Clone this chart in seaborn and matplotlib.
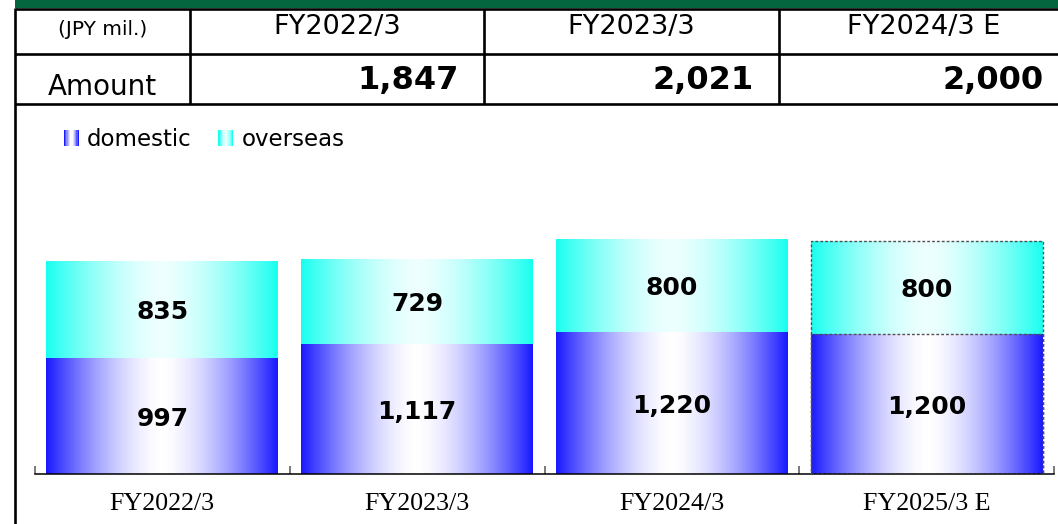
import matplotlib
matplotlib.use("Agg")
import matplotlib.pyplot as plt
import numpy as np
import seaborn as sns
from matplotlib.legend_handler import HandlerBase
from matplotlib.patches import Rectangle, Patch

# Data
years = ["FY2022/3", "FY2023/3", "FY2024/3", "FY2025/3 E"]
domestic = [997, 1117, 1220, 1200]
overseas = [835, 729, 800, 800]

table_years = ["FY2022/3", "FY2023/3", "FY2024/3 E"]
table_amount = [1847, 2021, 2000]
table_unit = "(JPY mil.)"
table_row = "Amount"

totals = [d + o for d, o in zip(domestic, overseas)]

# Style
sns.set_style("white")
plt.rcParams["font.family"] = ["DejaVu Sans"]
plt.rcParams["text.color"] = "black"
plt.rcParams["xtick.color"] = "black"
plt.rcParams["xtick.labelcolor"] = "black"

DOM_EDGE = np.array([0.10, 0.10, 1.00])
DOM_MID = np.array([1.00, 1.00, 1.00])
OVS_EDGE = np.array([0.10, 1.00, 0.94])
OVS_MID = np.array([0.93, 1.00, 1.00])


def gradient(edge, mid, n=200):
    u = np.linspace(0, 1, n)
    w = (np.abs(u - 0.5) * 2) ** 1.6
    return mid[None, :] + (edge - mid)[None, :] * w[:, None]


class GradientHandler(HandlerBase):
    def __init__(self, edge, mid):
        super().__init__()
        self.edge, self.mid = edge, mid

    def create_artists(self, legend, orig_handle, xdescent, ydescent,
                       width, height, fontsize, trans):
        cols = gradient(self.edge, self.mid, 12)
        arts = []
        step = width / len(cols)
        for i, c in enumerate(cols):
            arts.append(Rectangle((-xdescent + i * step, -ydescent), step * 1.05, height,
                                  facecolor=c, edgecolor="none", transform=trans))
        return arts


W, H = 1058, 524
fig = plt.figure(figsize=(W / 100, H / 100), dpi=100)

# ---- table on top (figure pixel space) ----
bg = fig.add_axes([0, 0, 1, 1], zorder=0)
bg.set_xlim(0, W)
bg.set_ylim(H, 0)
bg.axis("off")

col_edges = [15, 190, 484, 779, 1069]
bg.add_patch(Rectangle((15, 0), W - 15, 8, color="#03663f", lw=0))
lw = 1.9
for y in [8.5, 53.5, 104]:
    bg.plot([15, W], [y, y], color="black", lw=lw, solid_capstyle="butt")
for x in col_edges[1:4]:
    bg.plot([x, x], [8.5, 104], color="black", lw=lw, solid_capstyle="butt")
bg.plot([15, 15], [8, H], color="black", lw=lw, solid_capstyle="butt")

bg.text((col_edges[0] + col_edges[1]) / 2, 35, table_unit, ha="center", va="baseline", fontsize=14.5)
bg.text((col_edges[0] + col_edges[1]) / 2, 95, table_row, ha="center", va="baseline", fontsize=20)
for i, (lab, val) in enumerate(zip(table_years, table_amount)):
    cx = (col_edges[i + 1] + col_edges[i + 2]) / 2
    bg.text(cx, 33.5, lab, ha="center", va="baseline", fontsize=19.5)
    bg.text(col_edges[i + 2] - 25, 88.5, f"{val:,}", ha="right", va="baseline",
            fontsize=23, fontweight="bold")

# ---- chart ----
px_per_unit = 213 / 1832
ax_top, ax_bot, ax_l, ax_r = 130, 474, 35, 1054
ax = fig.add_axes([ax_l / W, (H - ax_bot) / H, (ax_r - ax_l) / W, (ax_bot - ax_top) / H], zorder=1)
ax.patch.set_alpha(0)

sns.barplot(x=years, y=totals, color=OVS_EDGE, width=0.91, saturation=1, ax=ax)
sns.barplot(x=years, y=domestic, color=DOM_EDGE, width=0.91, saturation=1, ax=ax)

ovs_grad = gradient(OVS_EDGE, OVS_MID)[None, :, :]
dom_grad = gradient(DOM_EDGE, DOM_MID)[None, :, :]
for cont, grad in [(ax.containers[0], ovs_grad), (ax.containers[1], dom_grad)]:
    for i, p in enumerate(cont.patches):
        x0, y0 = p.get_x(), p.get_y()
        im = ax.imshow(grad, extent=[x0, x0 + p.get_width(), y0, y0 + p.get_height()],
                       aspect="auto", interpolation="bilinear", zorder=2)
        im.set_clip_path(p)
        if years[i].endswith("E"):
            p.set_facecolor("none")
            p.set_edgecolor("#505050")
            p.set_linestyle((0, (2, 1.5)))
            p.set_linewidth(1.0)
            p.set_zorder(4)

for i in range(len(years)):
    ax.text(i, domestic[i] + overseas[i] / 2, f"{overseas[i]:,}", ha="center",
            va="center_baseline", fontsize=18, fontweight="bold", color="black", zorder=5)
    ax.text(i, domestic[i] / 2, f"{domestic[i]:,}", ha="center",
            va="center_baseline", fontsize=18, fontweight="bold", color="black", zorder=5)

ax.set_xlim(-0.5, len(years) - 0.5)
ax.set_ylim(0, (ax_bot - ax_top) / px_per_unit)
ax.set_yticks([])
for s in ["left", "right", "top"]:
    ax.spines[s].set_visible(False)
ax.spines["bottom"].set_color("black")
ax.spines["bottom"].set_linewidth(1.1)
ax.set_xticks(np.arange(-0.5, len(years)), minor=True)
ax.tick_params(axis="x", which="major", bottom=True, length=0, pad=13.5, labelsize=18.7,
               labelcolor="black")
ax.tick_params(axis="x", which="minor", bottom=True, direction="in", length=6, width=1.3,
               color="#707070")
for lab in ax.get_xticklabels():
    lab.set_fontfamily("Liberation Serif")
ax.set_xlabel("")
ax.set_ylabel("")

handles = [Patch(label="domestic"), Patch(label="overseas")]
fig.legend(handles=handles, labels=["domestic", "overseas"],
           handler_map={handles[0]: GradientHandler(DOM_EDGE, DOM_MID),
                        handles[1]: GradientHandler(OVS_EDGE, OVS_MID)},
           loc="upper left", bbox_to_anchor=(64 / W, 1 - 128 / H), ncol=2, frameon=False,
           fontsize=16.5, handlelength=0.65, handleheight=0.75, handletextpad=0.35,
           columnspacing=1.17, borderpad=0, borderaxespad=0, labelcolor="black")

fig.savefig("out.png", dpi=100)
